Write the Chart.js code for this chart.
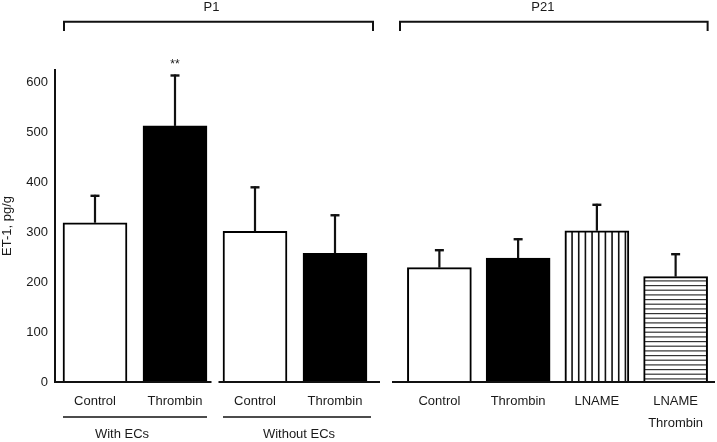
<!DOCTYPE html>
<html><head><meta charset="utf-8">
<script src="https://cdn.jsdelivr.net/npm/chart.js@4/dist/chart.umd.min.js"></script>
<style>
html,body{margin:0;padding:0;background:#fff;}
#wrap{position:relative;width:717px;height:442px;overflow:hidden;background:#fff;}
canvas{position:absolute;top:0;}
#c1{left:0;} #c2{left:380px;}
</style></head><body>
<div id="wrap"><canvas id="c1" width="385" height="442"></canvas><canvas id="c2" width="337" height="442"></canvas></div>
<script>
// ---- data ----
const p1Categories = ["Control", "Thrombin", "Control", "Thrombin"];
const p1Values = [319, 513, 302, 258];
const p1Errors = [56, 103, 90, 78];
const p1Groups = ["With ECs", "Without ECs"];
const p21Categories = ["Control", "Thrombin", "LNAME", ["LNAME", "Thrombin"]];
const p21Values = [229, 248, 303, 211];
const p21Errors = [37, 40, 54, 47];
const panelLabels = ["P1", "P21"];
const yAxisTitle = "ET-1, pg/g";
const significanceMark = "**";
const yMin = 0, yMax = 625, yStep = 100;

// ---- styles ----
const FONT = "'Liberation Sans', Arial, Helvetica, sans-serif";
const TXT = '#1a1a1a';
Chart.defaults.font.family = FONT;
Chart.defaults.font.size = 13;
Chart.defaults.color = TXT;

function vStripes(){
  const c = document.createElement('canvas'); c.width = 20; c.height = 10;
  const g = c.getContext('2d');
  g.fillStyle = '#fff'; g.fillRect(0,0,20,10);
  g.fillStyle = '#111';
  [4.6, 11.27, 17.93].forEach(x => g.fillRect(x, 0, 1.6, 10));
  return g.createPattern(c, 'repeat');
}
function hStripes(){
  const c = document.createElement('canvas'); c.width = 10; c.height = 14;
  const g = c.getContext('2d');
  g.fillStyle = '#fff'; g.fillRect(0,0,10,14);
  g.fillStyle = '#333';
  [0.3, 5.0, 9.6].forEach(y => g.fillRect(0, y, 10, 1.2));
  return g.createPattern(c, 'repeat');
}

function line(ctx, pts, w){
  ctx.save(); ctx.strokeStyle = '#111'; ctx.lineWidth = w; ctx.lineJoin='miter';
  ctx.beginPath(); ctx.moveTo(pts[0][0], pts[0][1]);
  for (let i=1;i<pts.length;i++) ctx.lineTo(pts[i][0], pts[i][1]);
  ctx.stroke(); ctx.restore();
}
function text(ctx, s, x, y, size){
  ctx.save(); ctx.fillStyle = TXT; ctx.font = (size||13) + 'px ' + FONT;
  ctx.textAlign = 'center'; ctx.textBaseline = 'middle'; ctx.fillText(s, x, y); ctx.restore();
}
function errorBars(chart, errs){
  const ctx = chart.ctx, ys = chart.scales.y, meta = chart.getDatasetMeta(0);
  const vals = chart.data.datasets[0].data;
  meta.data.forEach((bar, i) => {
    const top = ys.getPixelForValue(vals[i] + errs[i]);
    line(ctx, [[bar.x, bar.y], [bar.x, top]], 2.2);
    line(ctx, [[bar.x - 4.5, top + 1], [bar.x + 4.5, top + 1]], 2.4);
  });
}

function baseOptions(showY, padding, lineH){
  return {
    responsive: false, animation: false,
    layout: { padding: padding },
    plugins: { legend: { display: false }, tooltip: { enabled: false } },
    scales: {
      x: {
        type: 'category',
        grid: { display: false, drawTicks: false },
        border: { display: false },
        ticks: { color: TXT, font: { size: 13, lineHeight: lineH }, padding: 9, maxRotation: 0, autoSkip: false },
        afterFit: s => { s.height = 60; }
      },
      y: {
        display: showY,
        min: yMin, max: yMax,
        grid: { display: false, drawTicks: false },
        border: { display: true, color: '#111', width: 2 },
        ticks: { stepSize: yStep, includeBounds: false, padding: 7, color: TXT, font: { size: 13 } },
        title: { display: true, text: yAxisTitle, color: TXT, font: { size: 13 }, padding: { top: 0, bottom: 0 } },
        afterFit: s => { s.width = showY ? 55 : 0; }
      }
    }
  };
}

// ---- P1 chart ----
const c1 = new Chart(document.getElementById('c1'), {
  type: 'bar',
  data: { labels: p1Categories, datasets: [{
    data: p1Values,
    backgroundColor: ['#fff', '#000', '#fff', '#000'],
    borderColor: '#000', borderWidth: 2, borderSkipped: 'bottom', barThickness: 64
  }]},
  options: baseOptions(true, { left: 0, right: 10, top: 70, bottom: 0 }, 1.65),
  plugins: [{
    id: 'p1deco',
    afterDatasetsDraw(chart){
      const ctx = chart.ctx, a = chart.chartArea, ys = chart.scales.y;
      const b = chart.getDatasetMeta(0).data;
      errorBars(chart, p1Errors);
      const y0 = ys.getPixelForValue(0);
      const mid = (b[1].x + b[2].x) / 2;
      line(ctx, [[a.left, y0], [mid - 3.5, y0]], 2);
      line(ctx, [[mid + 3.5, y0], [a.right + 5, y0]], 2);
      const uy = y0 + 35;
      line(ctx, [[b[0].x - 32, uy], [b[1].x + 32, uy]], 1.6);
      line(ctx, [[b[2].x - 32, uy], [b[3].x + 36, uy]], 1.6);
      text(ctx, p1Groups[0], (b[0].x + b[1].x) / 2 - 13, y0 + 52);
      text(ctx, p1Groups[1], (b[2].x + b[3].x) / 2 + 4, y0 + 52);
      const bl = b[0].x - 31, br = a.right - 2;
      line(ctx, [[bl, 31], [bl, 21.7], [br, 21.7], [br, 31]], 2);
      text(ctx, panelLabels[0], (bl + br) / 2 - 7, 7.5);
      const st = ys.getPixelForValue(p1Values[1] + p1Errors[1]);
      ctx.save(); ctx.fillStyle = TXT; ctx.font = '12px ' + FONT; ctx.textAlign = 'center';
      ctx.textBaseline = 'alphabetic'; ctx.fillText(significanceMark, b[1].x, st - 6); ctx.restore();
    }
  }]
});

// ---- P21 chart ----
const c2 = new Chart(document.getElementById('c2'), {
  type: 'bar',
  data: { labels: p21Categories, datasets: [{
    data: p21Values,
    backgroundColor: ['#fff', '#000', vStripes(), hStripes()],
    borderColor: '#000', borderWidth: 2, borderSkipped: 'bottom', barThickness: 64
  }]},
  options: baseOptions(false, { left: 20, right: 2, top: 70, bottom: 0 }, 1.65),
  plugins: [{
    id: 'p21deco',
    afterDatasetsDraw(chart){
      const ctx = chart.ctx, a = chart.chartArea, ys = chart.scales.y;
      const b = chart.getDatasetMeta(0).data;
      errorBars(chart, p21Errors);
      const y0 = ys.getPixelForValue(0);
      line(ctx, [[a.left - 8, y0], [a.right, y0]], 2);
      const bl = a.left, br = b[3].x + 32;
      line(ctx, [[bl, 31], [bl, 21.7], [br, 21.7], [br, 31]], 2);
      text(ctx, panelLabels[1], (bl + br) / 2 - 11, 7.5);
    }
  }]
});
</script>
</body></html>
